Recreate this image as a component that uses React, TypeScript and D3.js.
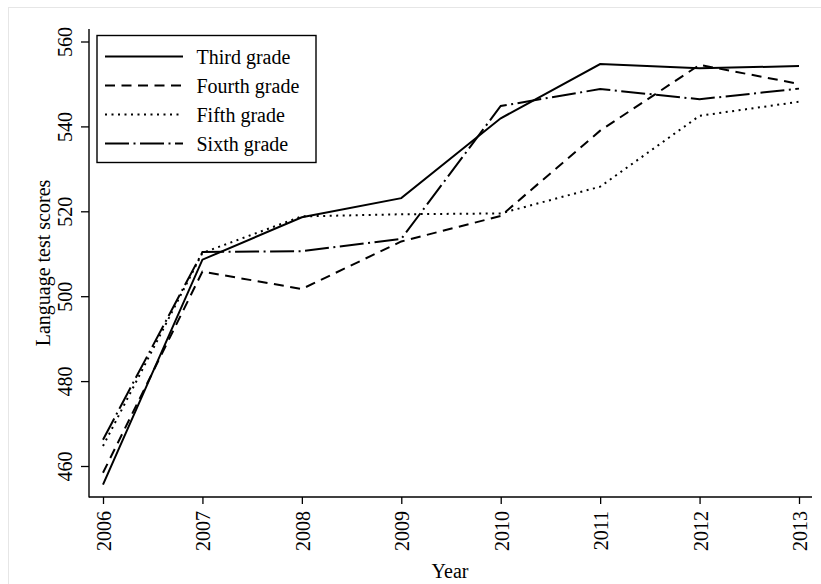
import React, { useEffect, useRef } from "react";
import * as d3 from "d3";

const years = [2006, 2007, 2008, 2009, 2010, 2011, 2012, 2013];
const thirdGrade = [455.6, 508.6, 518.6, 523.1, 541.9, 554.7, 553.7, 554.2];
const fourthGrade = [458.4, 505.8, 501.7, 512.9, 518.9, 539.0, 554.5, 550.0];
const fifthGrade = [464.7, 510.2, 518.8, 519.3, 519.5, 525.8, 542.5, 545.8];
const sixthGrade = [466.2, 510.4, 510.6, 513.5, 544.8, 548.8, 546.4, 548.9];
const seriesNames = ["Third grade", "Fourth grade", "Fifth grade", "Sixth grade"];
const yTicks = [460, 480, 500, 520, 540, 560];

const W = 821;
const H = 584;
const FONT = "'Liberation Serif', 'Times New Roman', serif";

export default function App() {
  const ref = useRef<SVGSVGElement | null>(null);

  useEffect(() => {
    const svg = d3.select(ref.current);
    svg.selectAll("*").remove();

    // faint outer frame
    svg.append("rect").attr("x", 8.5).attr("y", 7.5).attr("width", 900).attr("height", 900)
      .attr("fill", "none").attr("stroke", "#e6e6e6").attr("stroke-width", 1);

    const x = d3.scaleLinear().domain([2006, 2013]).range([103, 799]);
    const y = d3.scaleLinear().domain([460, 560]).range([466, 41.5]);

    const left = 89, right = 812, top = 29, bottom = 497;

    // y axis
    const gy = svg.append("g").attr("transform", `translate(${left},0)`)
      .call(d3.axisLeft(y).tickValues(yTicks).tickSize(8).tickSizeOuter(0).tickFormat(d3.format("d")));
    gy.select(".domain").remove();
    gy.selectAll(".tick line").attr("stroke", "#000").attr("stroke-width", 1.3);
    gy.selectAll(".tick text")
      .attr("font-family", FONT).attr("font-size", 20).attr("fill", "#000")
      .attr("x", null).attr("dy", null)
      .attr("text-anchor", "middle")
      .attr("transform", "translate(-17,0) rotate(-90)");

    // x axis
    const gx = svg.append("g").attr("transform", `translate(0,${bottom})`)
      .call(d3.axisBottom(x).tickValues(years).tickSize(7).tickSizeOuter(0).tickFormat(d3.format("d")));
    gx.select(".domain").remove();
    gx.selectAll(".tick line").attr("stroke", "#000").attr("stroke-width", 1.3);
    gx.selectAll(".tick text")
      .attr("font-family", FONT).attr("font-size", 20).attr("fill", "#000")
      .attr("y", null).attr("dy", null)
      .attr("text-anchor", "end")
      .attr("transform", "translate(7.5,14) rotate(-90)");

    // axis lines
    svg.append("line").attr("x1", left).attr("x2", left).attr("y1", top).attr("y2", bottom + 0.6)
      .attr("stroke", "#000").attr("stroke-width", 1.4);
    svg.append("line").attr("x1", left).attr("x2", right).attr("y1", bottom).attr("y2", bottom)
      .attr("stroke", "#000").attr("stroke-width", 1.4);

    // axis titles
    svg.append("text").attr("x", 450).attr("y", 578).attr("text-anchor", "middle")
      .attr("font-family", FONT).attr("font-size", 20).attr("fill", "#000").text("Year");
    svg.append("text").attr("transform", `translate(50,263) rotate(-90)`).attr("text-anchor", "middle")
      .attr("font-family", FONT).attr("font-size", 20).attr("fill", "#000").text("Language test scores");

    const dashes = ["none", "10,6.5", "2,4.5", "24,4.5,2,4.5"];
    const allSeries = [thirdGrade, fourthGrade, fifthGrade, sixthGrade];
    const line = d3.line<number>().x((_, i) => x(years[i])).y((d) => y(d));

    allSeries.forEach((s, i) => {
      svg.append("path").attr("d", line(s) as string).attr("fill", "none")
        .attr("stroke", "#000").attr("stroke-width", 2)
        .attr("stroke-linejoin", "miter")
        .attr("stroke-dasharray", dashes[i]);
    });

    // legend
    const lg = svg.append("g");
    lg.append("rect").attr("x", 97).attr("y", 35.5).attr("width", 219).attr("height", 127)
      .attr("fill", "#fff").attr("stroke", "#000").attr("stroke-width", 1.4);
    const rowY = [56.5, 85.5, 114.5, 143.5];
    seriesNames.forEach((name, i) => {
      lg.append("line").attr("x1", 105).attr("x2", 183).attr("y1", rowY[i]).attr("y2", rowY[i])
        .attr("stroke", "#000").attr("stroke-width", 2).attr("stroke-dasharray", dashes[i]);
      lg.append("text").attr("x", 196.5).attr("y", rowY[i] + 7)
        .attr("font-family", FONT).attr("font-size", 20).attr("fill", "#000").text(name);
    });
  }, []);

  return (
    <svg ref={ref} width={W} height={H}
      style={{ position: "absolute", left: 0, top: 0, background: "#fff", display: "block" }} />
  );
}
